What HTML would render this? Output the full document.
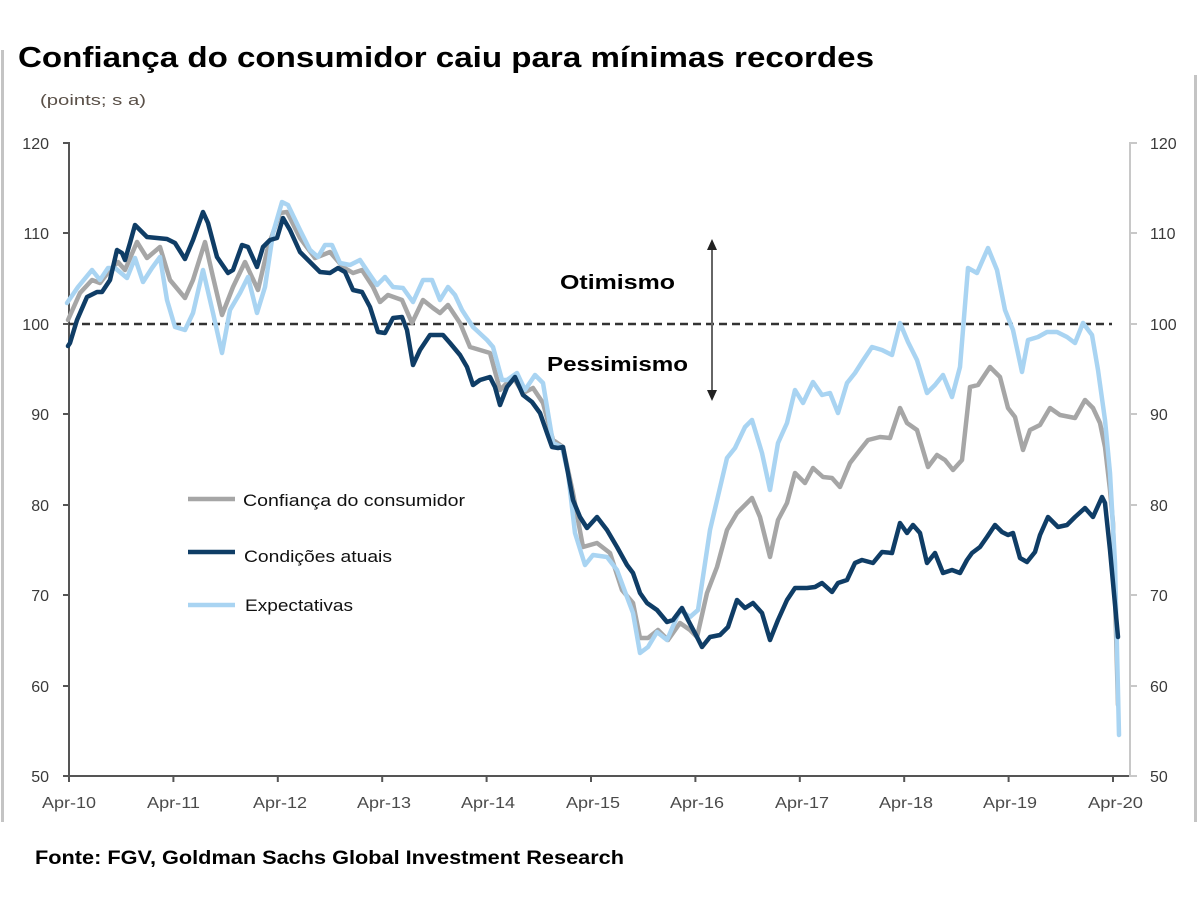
<!DOCTYPE html>
<html><head><meta charset="utf-8"><style>
html,body{margin:0;padding:0;background:#fff;}
svg{display:block;}
text{font-family:"Liberation Sans",Arial,sans-serif;}
</style></head><body>
<svg width="1200" height="900" viewBox="0 0 1200 900" xmlns="http://www.w3.org/2000/svg">
<rect x="0" y="0" width="1200" height="900" fill="#fff"/>
<!-- borders -->
<rect x="1" y="50" width="3" height="772" fill="#c4c4c4"/>
<rect x="1194" y="75" width="3" height="747" fill="#c4c4c4"/>

<!-- title -->
<text x="18" y="67" font-size="29" font-weight="bold" fill="#000" textLength="856" lengthAdjust="spacingAndGlyphs">Confiança do consumidor caiu para mínimas recordes</text>
<text x="40" y="105" font-size="15" fill="#5a5048" textLength="106" lengthAdjust="spacingAndGlyphs">(points; s a)</text>

<!-- left axis -->
<g stroke="#555" stroke-width="2" fill="none">
<line x1="69" y1="142" x2="69" y2="777"/>
<line x1="63" y1="143" x2="69" y2="143"/>
<line x1="63" y1="233" x2="69" y2="233"/>
<line x1="63" y1="324" x2="69" y2="324"/>
<line x1="63" y1="414" x2="69" y2="414"/>
<line x1="63" y1="505" x2="69" y2="505"/>
<line x1="63" y1="595" x2="69" y2="595"/>
<line x1="63" y1="686" x2="69" y2="686"/>
<line x1="63" y1="776" x2="69" y2="776"/>
<line x1="68" y1="776" x2="1131" y2="776"/>
<line x1="69" y1="776" x2="69" y2="782"/>
<line x1="173.4" y1="776" x2="173.4" y2="782"/>
<line x1="277.8" y1="776" x2="277.8" y2="782"/>
<line x1="382.2" y1="776" x2="382.2" y2="782"/>
<line x1="486.6" y1="776" x2="486.6" y2="782"/>
<line x1="591" y1="776" x2="591" y2="782"/>
<line x1="695.4" y1="776" x2="695.4" y2="782"/>
<line x1="799.8" y1="776" x2="799.8" y2="782"/>
<line x1="904.2" y1="776" x2="904.2" y2="782"/>
<line x1="1008.6" y1="776" x2="1008.6" y2="782"/>
<line x1="1113" y1="776" x2="1113" y2="782"/>
</g>
<!-- right axis -->
<g stroke="#c8c8c8" stroke-width="2" fill="none">
<line x1="1130" y1="142" x2="1130" y2="777"/>
<line x1="1130" y1="143" x2="1137" y2="143"/>
<line x1="1130" y1="233" x2="1137" y2="233"/>
<line x1="1130" y1="324" x2="1137" y2="324"/>
<line x1="1130" y1="414" x2="1137" y2="414"/>
<line x1="1130" y1="505" x2="1137" y2="505"/>
<line x1="1130" y1="595" x2="1137" y2="595"/>
<line x1="1130" y1="686" x2="1137" y2="686"/>
<line x1="1130" y1="776" x2="1137" y2="776"/>
</g>

<g font-size="16" fill="#3a3a3a" text-anchor="end">
<text x="49" y="149">120</text>
<text x="49" y="239">110</text>
<text x="49" y="330">100</text>
<text x="49" y="420">90</text>
<text x="49" y="511">80</text>
<text x="49" y="601">70</text>
<text x="49" y="692">60</text>
<text x="49" y="782">50</text>
</g>
<g font-size="16" fill="#3a3a3a">
<text x="1150" y="149">120</text>
<text x="1150" y="239">110</text>
<text x="1150" y="330">100</text>
<text x="1150" y="420">90</text>
<text x="1150" y="511">80</text>
<text x="1150" y="601">70</text>
<text x="1150" y="692">60</text>
<text x="1150" y="782">50</text>
</g>
<g font-size="16" fill="#4a4a4a">
<text x="42" y="808" textLength="54" lengthAdjust="spacingAndGlyphs">Apr-10</text>
<text x="147" y="808" textLength="53" lengthAdjust="spacingAndGlyphs">Apr-11</text>
<text x="253" y="808" textLength="54" lengthAdjust="spacingAndGlyphs">Apr-12</text>
<text x="357" y="808" textLength="54" lengthAdjust="spacingAndGlyphs">Apr-13</text>
<text x="461" y="808" textLength="54" lengthAdjust="spacingAndGlyphs">Apr-14</text>
<text x="566" y="808" textLength="54" lengthAdjust="spacingAndGlyphs">Apr-15</text>
<text x="670" y="808" textLength="54" lengthAdjust="spacingAndGlyphs">Apr-16</text>
<text x="775" y="808" textLength="54" lengthAdjust="spacingAndGlyphs">Apr-17</text>
<text x="879" y="808" textLength="54" lengthAdjust="spacingAndGlyphs">Apr-18</text>
<text x="983" y="808" textLength="54" lengthAdjust="spacingAndGlyphs">Apr-19</text>
<text x="1088" y="808" textLength="55" lengthAdjust="spacingAndGlyphs">Apr-20</text>
</g>

<!-- dashed 100 line -->
<line x1="69" y1="324" x2="1112" y2="324" stroke="#333" stroke-width="2.5" stroke-dasharray="8,5"/>

<!-- series -->
<g fill="none" stroke-width="4.5" stroke-linejoin="round" stroke-linecap="round">
<polyline stroke="#a6a6a6" points="68,320 80,293 92,280 100,283 110,270 118,262 125,270 137,242 147,258 160,247 170,280 185,298 193,280 205,242 213,277 222,315 233,287 245,262 258,290 268,247 280,213 287,212 300,238 315,258 330,252 343,267 353,273 362,270 373,287 380,302 388,295 402,300 412,323 423,300 433,308 440,313 448,305 460,323 470,347 490,353 500,390 513,377 523,393 533,388 543,403 553,440 563,447 573,493 583,547 597,543 610,553 622,590 633,603 640,638 648,638 658,630 668,640 680,623 690,630 697,637 707,593 717,567 727,530 737,513 752,498 760,517 770,557 778,520 787,503 795,473 805,483 813,468 823,477 832,478 840,487 850,463 860,450 868,440 880,437 890,438 900,408 907,423 917,430 928,467 937,455 945,460 953,470 962,460 970,387 978,385 990,367 1000,377 1008,408 1015,417 1023,450 1030,430 1040,425 1050,408 1060,415 1075,418 1085,400 1093,408 1100,423 1105,447 1110,490 1113,523 1118,705"/>
<polyline stroke="#a9d4f2" points="67,303 78,287 92,270 100,280 108,268 115,268 127,278 135,258 143,282 152,268 160,257 167,300 175,327 185,330 193,313 203,270 213,313 222,353 230,310 240,293 248,277 257,313 265,287 273,233 282,202 288,205 300,230 310,250 318,257 325,245 332,245 340,263 350,265 360,260 368,272 377,285 385,277 393,287 403,288 413,302 423,280 432,280 440,300 448,287 455,295 462,310 473,327 487,340 493,347 502,380 507,380 517,373 525,390 535,375 543,383 553,443 562,447 568,473 575,533 585,565 593,555 607,557 617,570 627,597 633,613 640,653 648,647 657,632 667,640 680,610 690,617 698,610 710,530 727,458 735,448 745,427 752,420 762,453 770,490 778,443 787,423 795,390 803,403 813,382 822,395 830,393 838,413 847,383 855,373 862,362 872,347 882,350 892,355 900,323 908,342 917,360 927,393 935,385 943,375 952,397 960,367 968,268 977,273 988,248 997,270 1005,310 1013,330 1022,372 1028,340 1038,337 1047,332 1057,332 1067,337 1075,343 1083,323 1092,335 1098,370 1105,420 1110,473 1115,563 1119,735"/>
<polyline stroke="#0f3d66" points="68,346 70,343 77,320 87,297 97,292 102,292 110,280 117,250 122,253 125,260 130,243 135,225 140,230 147,237 157,238 167,239 175,243 185,259 193,240 203,212 208,223 217,257 228,273 233,270 242,245 248,247 257,267 263,247 270,240 277,238 283,218 290,230 300,252 308,260 320,272 330,273 338,268 345,272 353,290 362,292 370,307 378,332 385,333 393,318 402,317 407,330 413,365 420,350 430,335 443,335 450,343 460,355 467,367 473,385 480,380 490,377 495,387 500,405 507,387 515,377 523,395 532,402 540,413 547,433 552,447 558,448 563,447 568,473 573,500 580,517 587,528 597,517 607,530 617,547 627,565 633,573 640,593 647,603 657,610 667,622 673,620 682,608 688,620 697,637 702,647 710,637 720,635 728,627 737,600 745,608 753,603 762,613 770,640 778,620 787,600 795,588 807,588 815,587 822,583 832,592 838,583 847,580 855,563 862,560 873,563 882,552 892,553 900,523 907,533 913,525 920,533 927,563 935,553 943,573 952,570 960,573 967,560 972,553 980,547 987,537 995,525 1002,532 1008,535 1013,533 1020,558 1027,562 1035,552 1040,535 1048,517 1058,527 1067,525 1075,517 1085,508 1093,517 1102,497 1105,503 1110,550 1118,637"/>
</g>

<!-- arrow -->
<line x1="712" y1="250" x2="712" y2="392" stroke="#666" stroke-width="2"/>
<polygon points="712,239 707,250 717,250" fill="#222"/>
<polygon points="712,401 707,390 717,390" fill="#222"/>
<text x="560" y="289" font-size="20" font-weight="bold" fill="#000" textLength="115" lengthAdjust="spacingAndGlyphs">Otimismo</text>
<text x="547" y="371" font-size="20" font-weight="bold" fill="#000" textLength="141" lengthAdjust="spacingAndGlyphs">Pessimismo</text>

<!-- legend -->
<line x1="188" y1="499" x2="235" y2="499" stroke="#a6a6a6" stroke-width="4.5"/>
<line x1="188" y1="552" x2="235" y2="552" stroke="#0f3d66" stroke-width="4.5"/>
<line x1="188" y1="605" x2="235" y2="605" stroke="#a9d4f2" stroke-width="4.5"/>
<g font-size="17" fill="#111">
<text x="243" y="506" textLength="222" lengthAdjust="spacingAndGlyphs">Confiança do consumidor</text>
<text x="244" y="562" textLength="148" lengthAdjust="spacingAndGlyphs">Condições atuais</text>
<text x="245" y="611" textLength="108" lengthAdjust="spacingAndGlyphs">Expectativas</text>
</g>

<!-- source -->
<text x="35" y="864" font-size="19" font-weight="bold" fill="#000" textLength="589" lengthAdjust="spacingAndGlyphs">Fonte: FGV, Goldman Sachs Global Investment Research</text>
</svg>
</body></html>
